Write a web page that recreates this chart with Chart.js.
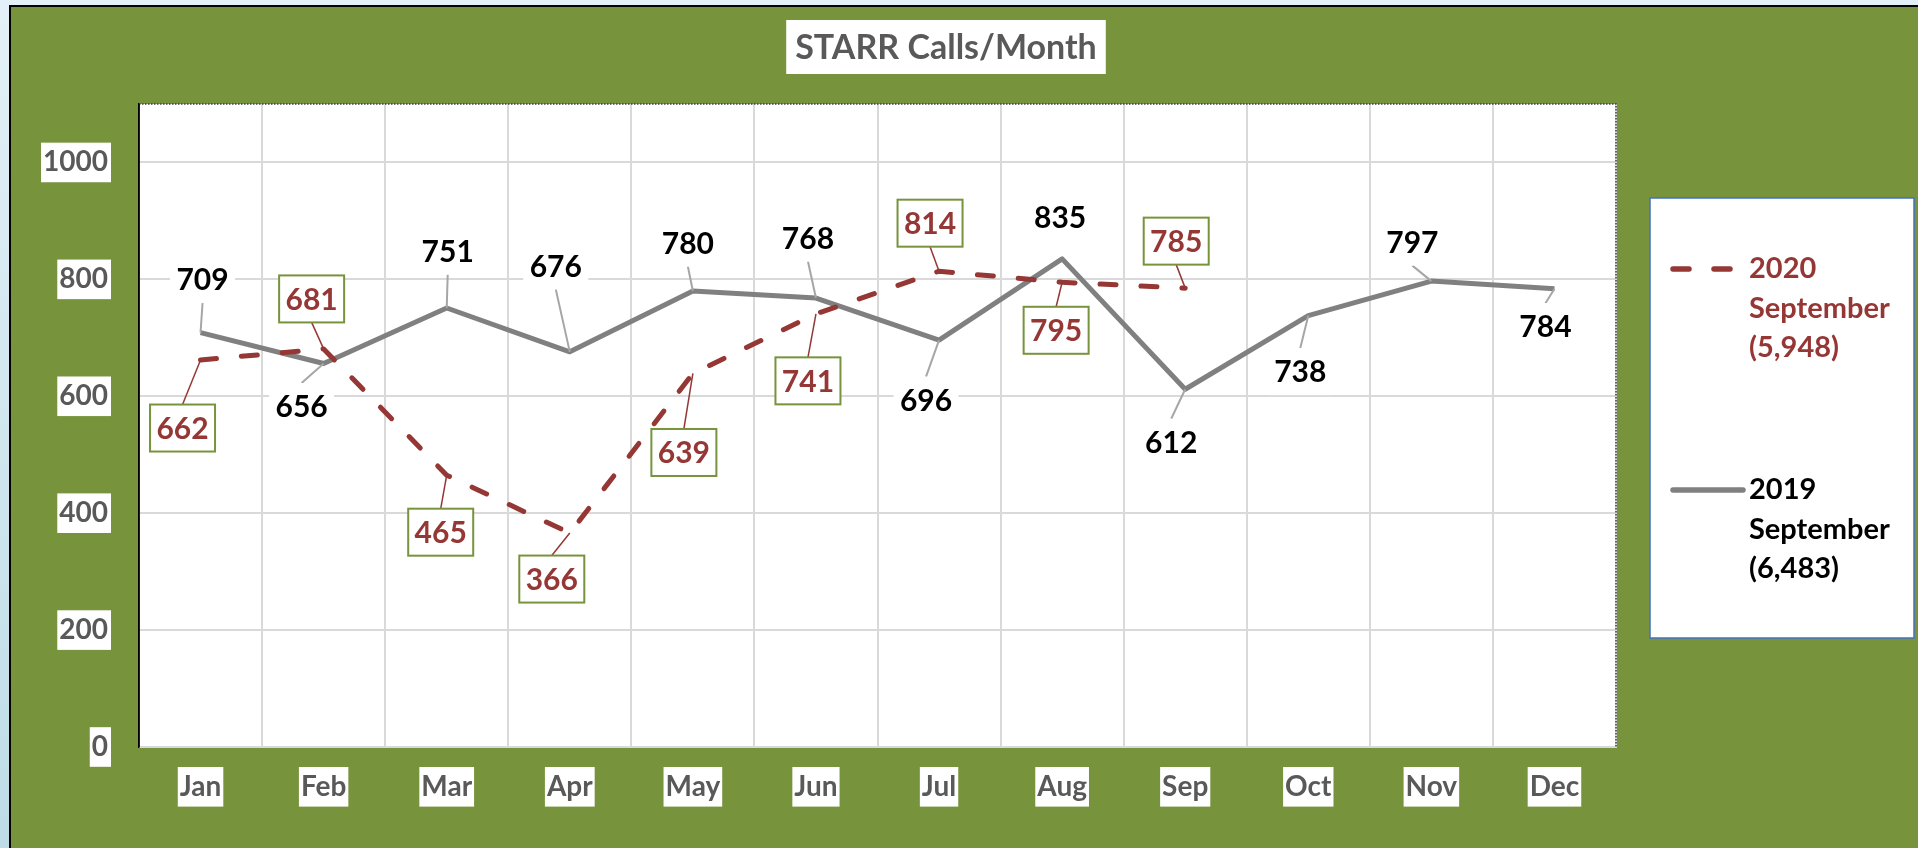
<!doctype html>
<html lang="en">
  <head>
    <meta charset="UTF-8">
    <title>STARR Calls/Month</title>
    <style>
      html, body { margin: 0; padding: 0; overflow: hidden; }
      #wrap { position: relative; width: 1918px; height: 848px; }
    </style>
  </head>
  <body>
    <div id="wrap"><canvas id="myChart"></canvas></div>

    <script src="https://cdn.jsdelivr.net/npm/chart.js@4.4.1/dist/chart.umd.min.js"></script>
    <script>
    // Data-----
    const months = ['Jan', 'Feb', 'Mar', 'Apr', 'May', 'Jun', 'Jul', 'Aug', 'Sep', 'Oct', 'Nov', 'Dec'];
    const calls2020 = [662, 681, 465, 366, 639, 741, 814, 795, 785];
    const calls2019 = [709, 656, 751, 676, 780, 768, 696, 835, 612, 738, 797, 784];
    const legend2020 = ['2020', 'September', '(5,948)'];
    const legend2019 = ['2019', 'September', '(6,483)'];
    const yTicks = [0, 200, 400, 600, 800, 1000];
    const chartTitle = 'STARR Calls/Month';
    // Data-----

    // where each value label sits relative to its point (px)
    const offsets2020 = [[-18, 68], [-12, -50], [-6, 57], [-18, 46], [-9, 79], [-8, 67], [-9, -48], [-6, 48], [-9, -47]];
    const offsets2019 = [[2, -53], [-22, 43], [1, -57], [-14, -86], [-5, -48], [-8, -60], [-13, 60], [-2, -42], [-14, 53], [-8, 56], [-19, -39], [-9, 38]];

    const FONT = 'Lato';
    const GREEN = '#77933C';
    const RED = '#953735';
    const GREY = '#808080';
    const AXIS_TEXT = '#595959';
    const BOX_W = 65, BOX_H = 47;

    // Plugins-----
    const background = {
        id: 'background',
        beforeDraw(chart) {
            const ctx = chart.ctx;
            const W = chart.width, H = chart.height;
            const a = chart.chartArea;
            ctx.save();
            const g = ctx.createLinearGradient(0, 0, 0, H);
            g.addColorStop(0, '#e4f0f7');
            g.addColorStop(1, '#bddce7');
            ctx.fillStyle = g;
            ctx.fillRect(0, 0, W, H);
            ctx.fillStyle = '#000';
            ctx.fillRect(9, 5, W, 2);
            ctx.fillRect(9, 5, 2, H);
            ctx.fillStyle = GREEN;
            ctx.fillRect(11, 7, W, H);
            ctx.fillStyle = '#fff';
            ctx.fillRect(a.left, a.top, a.right - a.left, a.bottom - a.top);
            ctx.restore();
        },
        beforeDatasetsDraw(chart) {
            const ctx = chart.ctx;
            const a = chart.chartArea;
            ctx.save();
            // dotted frame top/right, solid black left
            ctx.strokeStyle = '#404040';
            ctx.lineWidth = 1.5;
            ctx.setLineDash([1.5, 1.5]);
            ctx.beginPath();
            ctx.moveTo(a.left, a.top);
            ctx.lineTo(a.right, a.top);
            ctx.lineTo(a.right, a.bottom);
            ctx.stroke();
            ctx.setLineDash([]);
            ctx.strokeStyle = '#000';
            ctx.beginPath();
            ctx.moveTo(a.left, a.top);
            ctx.lineTo(a.left, a.bottom);
            ctx.stroke();
            ctx.restore();
        }
    };

    const titleBox = {
        id: 'titleBox',
        afterDraw(chart) {
            const ctx = chart.ctx;
            ctx.save();
            ctx.font = 'bold 34px ' + FONT;
            const w = ctx.measureText(chartTitle).width + 18;
            const cx = 946;
            ctx.fillStyle = '#fff';
            ctx.fillRect(cx - w / 2, 20, w, 54);
            ctx.fillStyle = AXIS_TEXT;
            ctx.textAlign = 'center';
            ctx.textBaseline = 'middle';
            ctx.fillText(chartTitle, cx, 48);
            ctx.restore();
        }
    };

    const pointLabels = {
        id: 'pointLabels',
        afterDatasetsDraw(chart) {
            const ctx = chart.ctx;
            const items = [];
            chart.data.datasets.forEach((ds, i) => {
                chart.getDatasetMeta(i).data.forEach((pt, j) => {
                    const [dx, dy] = ds.labelOffsets[j];
                    items.push({ px: pt.x, py: pt.y, x: pt.x + dx, y: pt.y + dy, dx, dy, text: String(ds.data[j]), ds });
                });
            });
            ctx.save();
            items.forEach(it => {
                if (Math.abs(it.dx) <= 3 && Math.abs(it.dy) <= 45) return;
                const sy = it.dy > 0 ? it.y - BOX_H / 2 : it.y + BOX_H / 2;
                ctx.strokeStyle = it.ds.leaderColor;
                ctx.lineWidth = it.ds.leaderWidth;
                ctx.beginPath();
                ctx.moveTo(it.x, sy);
                ctx.lineTo(it.px, it.py);
                ctx.stroke();
            });
            ctx.font = 'bold 30px ' + FONT;
            ctx.textAlign = 'center';
            ctx.textBaseline = 'middle';
            items.forEach(it => {
                const l = it.x - BOX_W / 2, t = it.y - BOX_H / 2;
                ctx.fillStyle = '#fff';
                ctx.fillRect(l, t, BOX_W, BOX_H);
                if (it.ds.labelBorder) {
                    ctx.strokeStyle = it.ds.labelBorder;
                    ctx.lineWidth = 2;
                    ctx.strokeRect(l, t, BOX_W, BOX_H);
                }
                ctx.fillStyle = it.ds.labelColor;
                ctx.fillText(it.text, it.x, it.y + 1);
            });
            ctx.restore();
        }
    };

    const sideLegend = {
        id: 'sideLegend',
        afterDraw(chart) {
            const ctx = chart.ctx;
            const a = chart.chartArea;
            const left = a.right + 34, top = 198, w = 264, h = 440;
            ctx.save();
            ctx.fillStyle = '#fff';
            ctx.fillRect(left, top, w, h);
            ctx.strokeStyle = '#4472C4';
            ctx.lineWidth = 1.5;
            ctx.strokeRect(left, top, w, h);
            const firstLine = [269, 490];
            ctx.font = 'bold 29px ' + FONT;
            ctx.textAlign = 'left';
            ctx.textBaseline = 'middle';
            chart.data.datasets.forEach((ds, i) => {
                const y = firstLine[i];
                ctx.strokeStyle = ds.borderColor;
                ctx.lineWidth = 5.5;
                ctx.lineCap = 'round';
                ctx.setLineDash(ds.borderDash || []);
                ctx.beginPath();
                ctx.moveTo(left + 23, y);
                ctx.lineTo(left + 93, y);
                ctx.stroke();
                ctx.setLineDash([]);
                ctx.fillStyle = ds.labelColor;
                ds.label.forEach((line, k) => {
                    ctx.fillText(line, left + 99, y + k * 39.5);
                });
            });
            ctx.restore();
        }
    };
    // Plugins-----

    // Config-----
    const config = {
        type: 'line',
        data: {
            labels: months,
            datasets: [{
                label: legend2020,
                data: calls2020,
                borderColor: RED,
                borderWidth: 5,
                borderDash: [16, 25],
                borderCapStyle: 'round',
                borderJoinStyle: 'round',
                pointRadius: 0,
                labelOffsets: offsets2020,
                labelColor: RED,
                labelBorder: GREEN,
                leaderColor: RED,
                leaderWidth: 1.5
            },
            {
                label: legend2019,
                data: calls2019,
                borderColor: GREY,
                borderWidth: 5,
                borderJoinStyle: 'round',
                pointRadius: 0,
                labelOffsets: offsets2019,
                labelColor: '#000',
                labelBorder: null,
                leaderColor: '#A6A6A6',
                leaderWidth: 2
            }]
        },
        options: {
            responsive: true,
            maintainAspectRatio: false,
            animation: false,
            events: [],
            layout: {
                padding: { top: 104, right: 302, bottom: 41, left: 0 }
            },
            plugins: {
                legend: { display: false },
                title: { display: false },
                tooltip: { enabled: false }
            },
            scales: {
                x: {
                    offset: true,
                    grid: { offset: true, color: '#D9D9D9', lineWidth: 2, drawTicks: false },
                    border: { color: '#D9D9D9', width: 2 },
                    ticks: {
                        color: AXIS_TEXT,
                        font: { family: FONT, size: 28, weight: 'bold' },
                        padding: 23,
                        showLabelBackdrop: true,
                        backdropColor: '#fff',
                        backdropPadding: { left: 2, right: 2, top: 3, bottom: 3 }
                    },
                    afterFit(scale) { scale.height = 60; }
                },
                y: {
                    min: 0,
                    max: 1100,
                    grid: { color: '#D9D9D9', lineWidth: 2, drawTicks: false },
                    border: { color: '#000', width: 1.5 },
                    afterBuildTicks(scale) { scale.ticks = yTicks.map(v => ({ value: v })); },
                    ticks: {
                        color: AXIS_TEXT,
                        font: { family: FONT, size: 28, weight: 'bold' },
                        padding: 31,
                        callback: v => String(v),
                        showLabelBackdrop: true,
                        backdropColor: '#fff',
                        backdropPadding: { left: 2, right: 3, top: 3, bottom: 3 }
                    },
                    afterFit(scale) { scale.width = 139; }
                }
            }
        },
        plugins: [background, pointLabels, titleBox, sideLegend]
    };
    // Config-----

    var myChart = new Chart(document.getElementById('myChart'), config);
    </script>
  </body>
</html>
